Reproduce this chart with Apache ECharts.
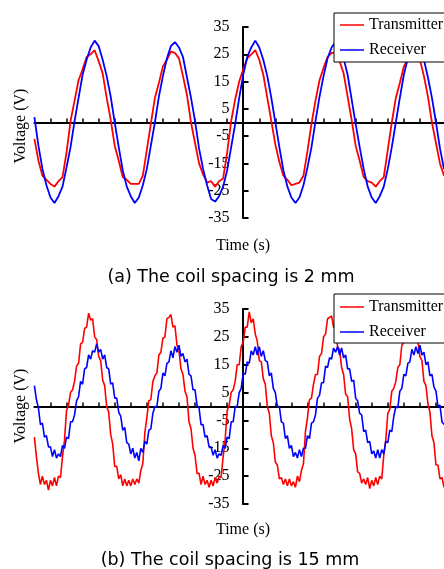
<!DOCTYPE html>
<html><head><meta charset="utf-8">
<script src="https://cdn.jsdelivr.net/npm/echarts@6/dist/echarts.min.js"></script>
<style>html,body{margin:0;padding:0;background:#fff;}#c{width:444px;height:569px;}</style>
</head><body><div id="c"></div>
<script>
// ---- data (time in ms, voltage in V) ----
const timeTop = [-50,-49,-48,-47,-46,-45,-44,-43,-42,-41,
-40,-39,-38,-37,-36,-35,-34,-33,-32,-31,-30,-29,-28,-27,-26,-25,-24,-23,-22,-21,
-20,-19,-18,-17,-16,-15,-14,-13,-12,-11,-10,-9,-8,-7,-6,-5,-4,-3,-2,-1,
0,1,2,3,4,5,6,7,8,9,10,11,12,13,14,15,16,17,18,19,
20,21,22,23,24,25,26,27,28,29,30,31,32,33,34,35,36,37,38,39,
40,41,42,43,44,45,46,47,48,49,50,51,52];
const transmitterTop = [-6,-14,-19.5,-21,-22.5,-23.5,-21.5,-20,-11,0.5,
8,15.5,19.5,24,25,26.5,22.5,18,9,1,-8.5,-14,-20,-21,-22.5,-22.5,-22.5,-19.5,-10,-0.5,
9,14.5,20.5,23,26,25.5,23.5,17,10,0,-7.5,-15,-19,-22,-21.5,-23.5,-21.5,-20.5,-11,0.5,
8.5,15,19.5,23.5,25,26.5,23,17.5,9,0.5,-8,-14.5,-19.5,-21,-23,-22.5,-22,-19.5,-10.5,-0.5,
8,15.5,20,24,25.5,25.5,22.5,18,9.5,1,-8.5,-14,-20,-21.5,-22,-23.5,-21.5,-20,-10,0,
9,14.5,20.5,23.5,25.5,26,23,17,9.5,0,-7.5,-15,-19.5];
const receiverTop = [2,-8.5,-17,-23,-27.5,-29.5,-27,-23.5,-16.5,-9,
0.5,9,17.5,23,27.5,30,28,23,17,9.5,0,-9,-17.5,-23.5,-27,-29.5,-27.5,-23,-17,-8.5,
0,9.5,17,23.5,28,29.5,27.5,24,16.5,9,0.5,-9.5,-17,-23,-28,-29,-27,-23.5,-17.5,-9,
-0.5,9,17.5,24,27.5,30,27.5,23,17,9,0,-9,-17.5,-23.5,-27.5,-29.5,-27.5,-23,-16.5,-9,
0.5,9.5,17,23.5,27.5,29.5,28,23.5,17.5,8.5,-0.5,-9,-17,-23.5,-27.5,-29.5,-27,-23.5,-17,-9,
0,9,17.5,23.5,28,29.5,27.5,23,16.5,9,0,-9.5,-17];

const timeBottom = [-50,-49.5,-49,-48.5,-48,-47.5,-47,-46.5,-46,-45.5,-45,-44.5,-44,-43.5,-43,-42.5,-42,-41.5,-41,-40.5,
-40,-39.5,-39,-38.5,-38,-37.5,-37,-36.5,-36,-35.5,-35,-34.5,-34,-33.5,-33,-32.5,-32,-31.5,-31,-30.5,
-30,-29.5,-29,-28.5,-28,-27.5,-27,-26.5,-26,-25.5,-25,-24.5,-24,-23.5,-23,-22.5,-22,-21.5,-21,-20.5,
-20,-19.5,-19,-18.5,-18,-17.5,-17,-16.5,-16,-15.5,-15,-14.5,-14,-13.5,-13,-12.5,-12,-11.5,-11,-10.5,
-10,-9.5,-9,-8.5,-8,-7.5,-7,-6.5,-6,-5.5,-5,-4.5,-4,-3.5,-3,-2.5,-2,-1.5,-1,-0.5,
0,0.5,1,1.5,2,2.5,3,3.5,4,4.5,5,5.5,6,6.5,7,7.5,8,8.5,9,9.5,
10,10.5,11,11.5,12,12.5,13,13.5,14,14.5,15,15.5,16,16.5,17,17.5,18,18.5,19,19.5,
20,20.5,21,21.5,22,22.5,23,23.5,24,24.5,25,25.5,26,26.5,27,27.5,28,28.5,29,29.5,
30,30.5,31,31.5,32,32.5,33,33.5,34,34.5,35,35.5,36,36.5,37,37.5,38,38.5,39,39.5,
40,40.5,41,41.5,42,42.5,43,43.5,44,44.5,45,45.5,46,46.5,47,47.5,48,48.5,49,49.5,50,50.5,51,51.5,52];
const transmitterBottom = [-11,-18,-24,-28,-25,-28,-26.5,-30,-26.5,-28.5,-25.5,-28.5,-25,-25.5,-18,-12,-1.5,0.5,5,6,
9,14.5,15.5,22.5,23,28,28.5,33.5,31,31.5,25,24,18,16.5,9.5,7.5,0,-2,-10,-13.5,
-21.5,-21.5,-26,-24.5,-28.5,-26,-28.5,-26.5,-28.5,-26,-28,-26,-27.5,-23,-20.5,-9.5,-4,2,2.5,9,
11,12,18.5,19.5,24.5,25,31.5,32,33,28.5,29,22,20,13.5,11.5,5.5,3.5,-5.5,-8,-15,
-17.5,-24,-24,-28,-25,-28,-26.5,-29,-26.5,-28.5,-25.5,-27.5,-25,-25.5,-18,-12,-1.5,0.5,5,6,
9,15,15,21.5,23,28.5,28.5,34,30,31.5,26,23.5,16.5,16,10,8,0,-2.5,-10.5,-13,
-20,-21,-26,-25.5,-28,-26,-28.5,-26,-28.5,-27,-29,-25,-27,-23,-20.5,-9,-4,2.5,3,8,
11.5,11.5,18,19,25,26,31.5,32,32.5,28.5,28,21.5,20.5,14,11.5,4.5,3.5,-4.5,-8,-15.5,
-17,-23.5,-24,-27.5,-26,-28,-25.5,-29.5,-26.5,-28.5,-25.5,-28,-25,-26,-17.5,-12,-2.5,-1,5.5,6.5,
9,14,15,22,23,28,28.5,35,31,31,25.5,23.5,18,16.5,9,7.5,1,-2,-10.5,-13,-21,-21,-26,-25.5,-29];
const receiverBottom = [7.5,2.5,-0.5,-6.5,-6,-11,-10.5,-14.5,-14.5,-18,-15.5,-18.5,-17,-18,-14,-15,-11,-11.5,-5.5,-5.5,
-3,2,3.5,9,8,13.5,14,18.5,17,20,19.5,22.5,19.5,20.5,17,18.5,14,13.5,8,8.5,
3,3,-2,-3.5,-8.5,-7.5,-13,-13.5,-17,-15,-18.5,-16.5,-19.5,-15,-16.5,-12.5,-13.5,-8.5,-8,-2.5,
0,0,5.5,6.5,12,11,15.5,16,20,17.5,21.5,19.5,22,18,19,16,17,11.5,11,6,
6,0.5,-0.5,-6.5,-6.5,-11,-10.5,-14.5,-14.5,-17.5,-15.5,-18.5,-17,-17.5,-14,-15,-11,-11.5,-5.5,-5.5,
0,0,5,6.5,12,11.5,16,15.5,20,18.5,21.5,18.5,21.5,18,20,16.5,16,11,12,6.5,
5,0,0,-5.5,-6,-11.5,-10.5,-15,-14,-18,-16.5,-18.5,-15.5,-18,-15,-15,-10.5,-11.5,-6,-5.5,
-3,3,4,8.5,8.5,14.5,14,17.5,17,21,19.5,21.5,18.5,21,17.5,18.5,13.5,13.5,9,9.5,
3,2,-2.5,-3,-9,-8.5,-13,-12.5,-17,-16,-18.5,-15.5,-18.5,-15.5,-17,-12.5,-13,-8.5,-9,-3.5,
0,-0.5,5.5,6.5,11.5,11,15.5,16,20.5,18.5,21.5,19,22,18.5,19.5,15,16,11,11.5,7,5.5,0,0.5,-5.5,-6.5];

const seriesNames = ['Transmitter', 'Receiver'];
const xTickValues = [-46,-42,-38,-34,-30,-26,-22,-18,-14,-10,-6,-2,2,6,10,14,18,22,26,30,34,38,42,46,50];
const captions = ['(a) The coil spacing is 2 mm', '(b) The coil spacing is 15 mm'];

// ---- chart ----
const chart = echarts.init(document.getElementById('c'), null, {renderer: 'canvas'});
const pair = (t, v) => t.map((x, i) => [x, v[i]]);
const SERIF = '"Liberation Serif", "Times New Roman", serif';
const RED = '#ff0000', BLUE = '#0000ff';
const GRID_LEFT = 34.4, GRID_W = 424.6, X_MIN = -50, X_MAX = 52;
const Y_OFFSET = -(GRID_W * (0 - X_MIN) / (X_MAX - X_MIN));

function xAxisCfg(gi) {
  return {
    gridIndex: gi, type: 'value', min: X_MIN, max: X_MAX,
    axisLine: {show: true, onZero: true, lineStyle: {color: '#000', width: 2}},
    axisTick: {show: true, inside: true, length: 4, customValues: xTickValues, lineStyle: {color: '#000', width: 1.5}},
    axisLabel: {show: false}, splitLine: {show: false}
  };
}
function yAxisCfg(gi) {
  return {
    gridIndex: gi, type: 'value', min: -35, max: 35, interval: 10,
    position: 'left', offset: Y_OFFSET,
    axisLine: {show: true, onZero: false, lineStyle: {color: '#000', width: 2}},
    axisTick: {show: true, inside: true, length: 6, lineStyle: {color: '#000', width: 2}},
    axisLabel: {margin: 13, color: '#000', fontFamily: SERIF, fontSize: 16},
    splitLine: {show: false}
  };
}
function legendCfg(top, padding) {
  return {
    data: seriesNames, orient: 'vertical', left: 334, top: top, padding: padding,
    icon: 'rect', itemGap: 9, itemWidth: 24, itemHeight: 1.5,
    backgroundColor: '#fff', borderColor: '#000', borderWidth: 1, borderRadius: 0,
    textStyle: {fontFamily: SERIF, fontSize: 16, color: '#000', lineHeight: 16},
    selectedMode: false
  };
}
function lineSeries(name, gi, t, v, color, w) {
  return {
    name: name, type: 'line', xAxisIndex: gi, yAxisIndex: gi,
    data: pair(t, v), symbol: 'none', showSymbol: false,
    lineStyle: {color: color, width: w}, itemStyle: {color: color}
  };
}
function txt(x, y, text, font, rot) {
  return {
    type: 'text', x: x, y: y, rotation: rot || 0, z: 10,
    style: {text: text, font: font, fill: '#000', textAlign: 'center', textVerticalAlign: 'middle', align: 'center', verticalAlign: 'middle'}
  };
}

chart.setOption({
  animation: false,
  backgroundColor: '#fff',
  grid: [
    {left: GRID_LEFT, top: 27, width: GRID_W, height: 191},
    {left: GRID_LEFT, top: 309, width: GRID_W, height: 195}
  ],
  xAxis: [xAxisCfg(0), xAxisCfg(1)],
  yAxis: [yAxisCfg(0), yAxisCfg(1)],
  legend: [legendCfg(13, [4, 12, 4, 6]), legendCfg(294, [5, 12, 3, 6])],
  series: [
    lineSeries(seriesNames[0], 0, timeTop, transmitterTop, RED, 1.8),
    lineSeries(seriesNames[1], 0, timeTop, receiverTop, BLUE, 1.8),
    lineSeries(seriesNames[0], 1, timeBottom, transmitterBottom, RED, 1.6),
    lineSeries(seriesNames[1], 1, timeBottom, receiverBottom, BLUE, 1.6)
  ],
  graphic: [
    txt(21, 126, 'Voltage (V)', '16px ' + SERIF, Math.PI / 2),
    txt(21, 406, 'Voltage (V)', '16px ' + SERIF, Math.PI / 2),
    txt(243, 246, 'Time (s)', '16px ' + SERIF),
    txt(243, 530, 'Time (s)', '16px ' + SERIF),
    txt(231, 277, captions[0], '17.5px "DejaVu Sans", sans-serif'),
    txt(230, 560, captions[1], '17.5px "DejaVu Sans", sans-serif')
  ]
});
</script>
</body></html>
